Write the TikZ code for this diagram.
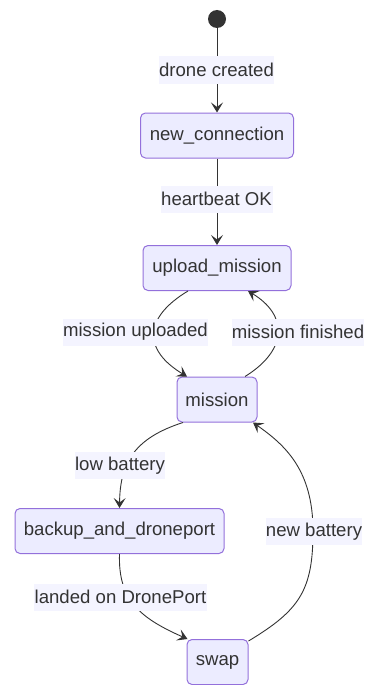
\documentclass[tikz,border=0pt]{standalone}
\usepackage{fontspec}
\setmainfont{Liberation Sans}
\usetikzlibrary{arrows.meta}
\definecolor{stfill}{HTML}{ECECFF}
\definecolor{stline}{HTML}{9370DB}
\definecolor{ink}{HTML}{333333}
\definecolor{lblbg}{HTML}{F4F4FF}
\begin{document}
\begin{tikzpicture}[x=1pt,y=-1pt,
  state/.style={draw=stline, fill=stfill, rounded corners=5pt, line width=1pt,
    text=ink, font=\fontsize{18.6}{22}\selectfont, inner sep=0pt, minimum height=45pt},
  lbl/.style={fill=lblbg, text=ink, font=\fontsize{18.6}{22}\selectfont,
    inner sep=0pt, minimum height=27pt},
  edge/.style={draw=ink, line width=0.9pt,
    -{Stealth[length=10pt, width=12pt, inset=4.5pt]}}]
  \useasboundingbox (0,0) rectangle (365,685);

  % states
  \node[circle, fill=ink, minimum size=18pt, inner sep=0pt] (start) at (217,19) {};
  \node[state, minimum width=153pt] (nc) at (217,135.5) {new\_connection};
  \node[state, minimum width=148pt] (um) at (217,268) {upload\_mission};
  \node[state, minimum width=80pt]  (mi) at (217,399.5) {mission};
  \node[state, minimum width=209pt] (bk) at (119.5,531) {backup\_and\_droneport};
  \node[state, minimum width=61pt]  (sw) at (217.5,662) {swap};

  % transitions
  \draw[edge] (start) -- (nc.north);
  \draw[edge] (nc.south) -- (um.north);
  \draw[edge] ([xshift=-29pt]um.south) .. controls (143,318) and (143,350) .. ([xshift=-30pt]mi.north);
  \draw[edge] ([xshift=28pt]mi.north) .. controls (288,350) and (288,315) .. ([xshift=31pt]um.south);
  \draw[edge] ([xshift=-34pt]mi.south) .. controls (135,438) and (120,462) .. (bk.north);
  \draw[edge] (bk.south) .. controls (118,600) and (140,618) .. ([xshift=-30pt]sw.north);
  \draw[edge] ([xshift=31pt,yshift=-2pt]sw.north) .. controls (300,610) and (313,590) .. (313,531)
     .. controls (313,470) and (285,445) .. ([xshift=36pt]mi.south);

  % transition labels
  \node[lbl, minimum width=115pt] (l1) at (216.5,70) {drone created};
  \node[lbl, minimum width=112pt] (l2) at (216.5,199) {heartbeat OK};
  \node[lbl, minimum width=145pt] (l3) at (135.5,332) {mission uploaded};
  \node[lbl, minimum width=132pt] (l4) at (298,332) {mission finished};
  \node[lbl, minimum width=90pt]  (l5) at (120,465.5) {low battery};
  \node[lbl, minimum width=96pt]  (l6) at (314,531.5) {new battery};
  \node[lbl, minimum width=173pt] (l7) at (120.5,597) {landed on DronePort};
\end{tikzpicture}
\end{document}
